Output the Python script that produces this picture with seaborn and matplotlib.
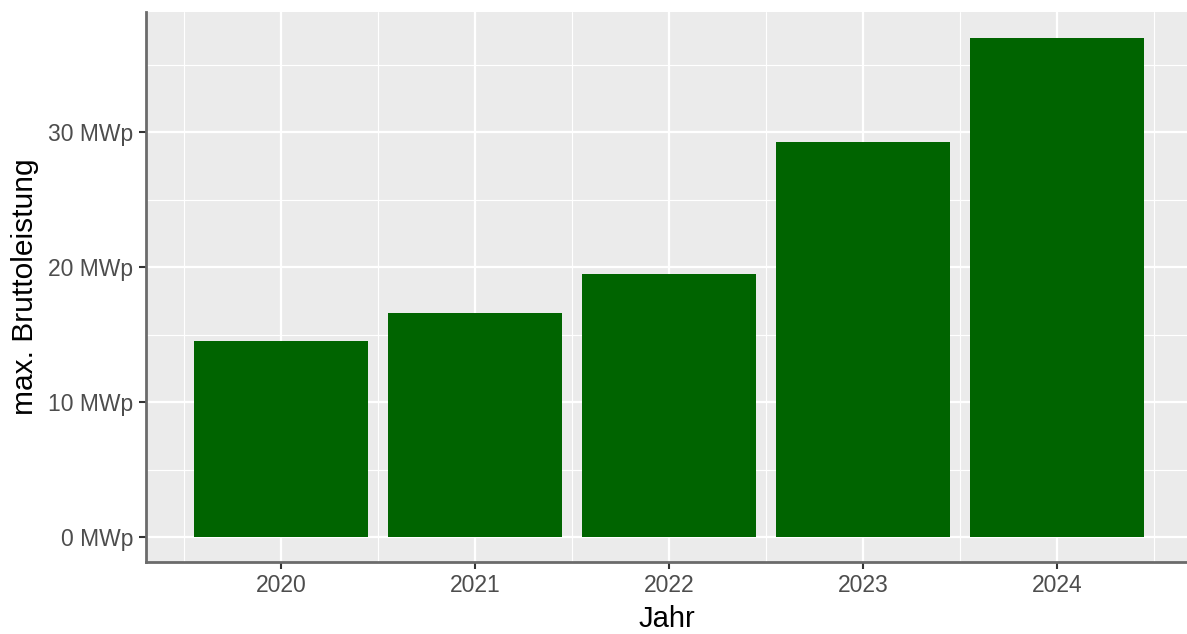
import pandas as pd
import matplotlib
matplotlib.use("Agg")
import matplotlib.pyplot as plt
import seaborn as sns
from matplotlib.ticker import FixedLocator

# ====================== DATA ======================
years = ["2020", "2021", "2022", "2023", "2024"]
leistung_mwp = [14.5, 16.6, 19.5, 29.3, 37.0]
y_ticks = [0, 10, 20, 30]
y_tick_labels = ["0 MWp", "10 MWp", "20 MWp", "30 MWp"]

df = pd.DataFrame({"Jahr": years, "Leistung": leistung_mwp})

# ====================== STYLE (ggplot-like) ======================
sns.set_theme(style="darkgrid", rc={
    "axes.facecolor": "#EBEBEB",
    "grid.color": "white",
})
plt.rcParams["font.family"] = ["Liberation Sans", "DejaVu Sans"]

fig = plt.figure(figsize=(11.87, 6.34), dpi=100)
ax = fig.add_axes([0.123, 0.1136, 0.877, 0.8675])

sns.barplot(data=df, x="Jahr", y="Leistung", color="#006400", width=0.9,
            saturation=1, linewidth=0, edgecolor="none", ax=ax, zorder=3)

ax.set_xlim(-0.696, 4.67)
ax.set_ylim(-1.85, 38.9)

ax.yaxis.set_major_locator(FixedLocator(y_ticks))
ax.set_yticklabels(y_tick_labels)
ax.set_yticks([5, 15, 25, 35], minor=True)
ax.set_xticks([-0.5, 0.5, 1.5, 2.5, 3.5, 4.5], minor=True)

ax.grid(which="major", color="white", linewidth=1.6, zorder=0)
ax.grid(which="minor", color="white", linewidth=0.8, zorder=0)
ax.set_axisbelow(True)

for side in ["top", "right"]:
    ax.spines[side].set_visible(False)
for side in ["left", "bottom"]:
    ax.spines[side].set_visible(True)
    ax.spines[side].set_color("#6B6B6B")
    ax.spines[side].set_linewidth(2)

ax.tick_params(which="major", length=5, width=1.5, color="#333333",
               labelsize=16.5, labelcolor="#4D4D4D", pad=4)
ax.tick_params(which="minor", length=0)
ax.tick_params(axis="x", bottom=True)
ax.tick_params(axis="y", left=True)

ax.set_xlabel("Jahr", fontsize=21, color="black", labelpad=5.5)
ax.set_ylabel("max. Bruttoleistung", fontsize=21.5, color="black", labelpad=7)

fig.savefig("out.png", dpi=100)
